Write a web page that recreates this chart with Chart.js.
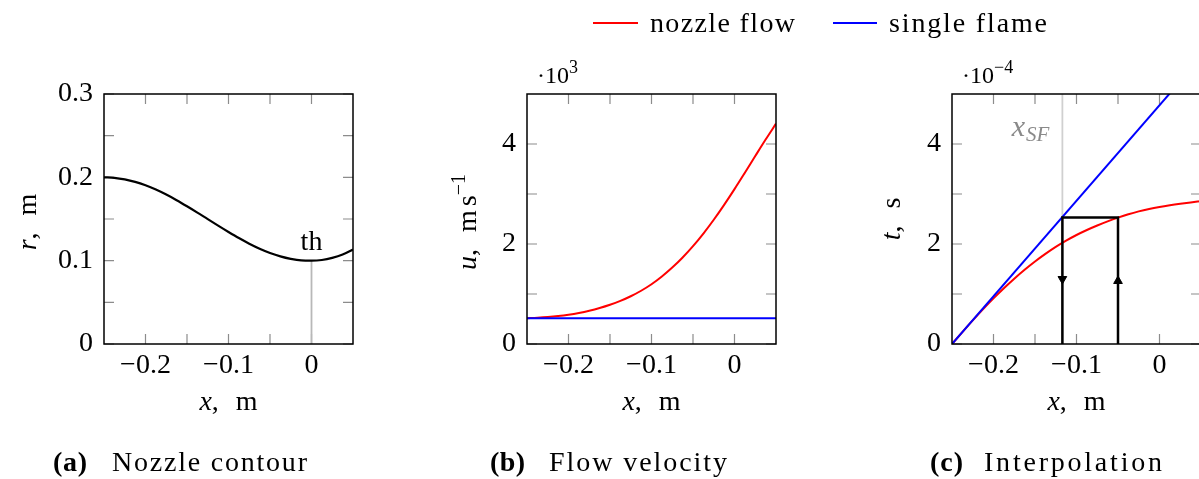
<!DOCTYPE html>
<html>
<head>
<meta charset="utf-8">
<script src="https://cdn.jsdelivr.net/npm/chart.js@4.4.0/dist/chart.umd.min.js"></script>
<style>
html,body{margin:0;padding:0;overflow:hidden;background:#fff;width:1199px;height:479px;}
#wrap{position:relative;width:1199px;height:479px;overflow:hidden;font-family:"Liberation Serif",serif;color:#000;}
#wrap canvas{position:absolute;top:0;}
.txt{position:absolute;font-size:28px;line-height:28px;white-space:nowrap;}
.legline{position:absolute;height:2px;}
</style>
</head>
<body>
<div id="wrap">
<canvas id="ca" width="400" height="479" style="left:0px"></canvas>
<canvas id="cb" width="400" height="479" style="left:400px"></canvas>
<canvas id="cc" width="410" height="479" style="left:800px"></canvas>
</div>
<script>
// ---------------- data ----------------
const seriesNames = ['nozzle flow', 'single flame'];
const seriesColors = ['#ff0000', '#0000ff'];
const captionLabels = ['(a)', '(b)', '(c)'];
const captionTexts = ['Nozzle contour', 'Flow velocity', 'Interpolation'];

const xTickValues = [-0.2, -0.1, 0];
const xTickLabels = ['\u22120.2', '\u22120.1', '0'];
const xMinorTicks = [-0.15, -0.05];

const rTickValues = [0, 0.1, 0.2, 0.3];
const rTickLabels = ['0', '0.1', '0.2', '0.3'];
const rMinorTicks = [0.05, 0.15, 0.25];

const uTickValues = [0, 2000, 4000];
const uTickLabels = ['0', '2', '4'];
const uMinorTicks = [1000, 3000];

const tTickValues = [0, 2e-4, 4e-4];
const tTickLabels = ['0', '2', '4'];
const tMinorTicks = [1e-4, 3e-4];

// common x positions (m)
const xPos = [-0.25, -0.2375, -0.225, -0.2125, -0.2, -0.1875, -0.175, -0.1625, -0.15, -0.1375, -0.125, -0.1125,
              -0.1, -0.0875, -0.075, -0.0625, -0.05, -0.0375, -0.025, -0.0125, 0, 0.0125, 0.025, 0.0375, 0.05];

// (a) nozzle contour radius (m)
const rContour = [0.2000, 0.1994, 0.1975, 0.1945, 0.1904, 0.1853, 0.1793, 0.1726, 0.1653, 0.1577, 0.1498, 0.1420,
                  0.1344, 0.1271, 0.1204, 0.1144, 0.1093, 0.1052, 0.1022, 0.1003, 0.1000, 0.1008, 0.1033, 0.1073, 0.1133];
const throatX = [0, 0];
const throatR = [0, 0.1];

// (b) flow velocity (m/s)
const uNozzle = [515, 525, 539, 559, 586, 621, 665, 719, 784, 862, 955, 1065,
                 1195, 1350, 1528, 1730, 1957, 2209, 2485, 2783, 3098, 3426, 3759, 4089, 4407];
const xSingle = [-0.25, 0.05];
const uSingle = [515, 515];

// (c) interpolation: residence time (s)
const tNozzle = [0, 0.238e-4, 0.472e-4, 0.698e-4, 0.913e-4, 1.116e-4, 1.307e-4, 1.485e-4, 1.650e-4, 1.802e-4, 1.942e-4, 2.067e-4,
                 2.180e-4, 2.280e-4, 2.370e-4, 2.452e-4, 2.527e-4, 2.595e-4, 2.653e-4, 2.701e-4, 2.741e-4, 2.775e-4, 2.805e-4, 2.832e-4, 2.857e-4];
const tSingle = [0, 5.73e-4];
const xSF = -0.117;
const tSF = 2.53e-4;
const xMatch = -0.05;
const pathX = [xSF, xSF, xMatch, xMatch];
const pathT = [0, tSF, tSF, 0];
const arrowX = [xSF, xMatch];
const arrowT = [1.30e-4, 1.26e-4];
const arrowRot = [180, 0];
const sfLineX = [xSF, xSF];
const sfLineT = [0, 5e-4];

// ---------------- helpers ----------------
const FONT = '"Liberation Serif", serif';
const FS = 28;
Chart.defaults.font.family = FONT;
Chart.defaults.font.size = FS;
Chart.defaults.color = '#000';

const pts = (xs, ys) => xs.map((x, i) => ({x: x, y: ys[i]}));
function line(xs, ys, color, width, smooth, extra) {
  return Object.assign({
    data: pts(xs, ys), showLine: true, borderColor: color, backgroundColor: color,
    borderWidth: width, pointRadius: 0, pointHoverRadius: 0,
    tension: 0, cubicInterpolationMode: smooth ? 'monotone' : 'default'
  }, extra || {});
}

function segFont(s) {
  return (s.b ? 'bold ' : '') + (s.it ? 'italic ' : '') + (s.size || FS) + 'px ' + FONT;
}
function drawRich(ctx, item) {
  ctx.save();
  ctx.translate(item.x, item.y);
  if (item.rot) ctx.rotate(item.rot);
  let w = 0;
  item.segs.forEach(s => { ctx.font = segFont(s); w += (s.dx || 0) + ctx.measureText(s.t).width; });
  let cx = item.align === 'center' ? -w / 2 : item.align === 'right' ? -w : 0;
  ctx.textBaseline = 'alphabetic';
  ctx.textAlign = 'left';
  item.segs.forEach(s => {
    ctx.font = segFont(s);
    ctx.fillStyle = s.color || '#000';
    cx += s.dx || 0;
    ctx.fillText(s.t, cx, s.dy || 0);
    cx += ctx.measureText(s.t).width;
  });
  ctx.restore();
}

const frameTicks = {
  id: 'frameTicks',
  beforeDatasetsDraw(chart, args, o) {
    const ctx = chart.ctx, a = chart.chartArea, x = chart.scales.x, y = chart.scales.y;
    const L = 10;
    ctx.save();
    ctx.strokeStyle = '#8c8c8c';
    ctx.lineWidth = 1.2;
    ctx.beginPath();
    o.x.forEach(v => {
      const p = x.getPixelForValue(v);
      ctx.moveTo(p, a.bottom); ctx.lineTo(p, a.bottom - L);
      ctx.moveTo(p, a.top); ctx.lineTo(p, a.top + L);
    });
    o.y.forEach(v => {
      const p = y.getPixelForValue(v);
      ctx.moveTo(a.left, p); ctx.lineTo(a.left + L, p);
      ctx.moveTo(a.right, p); ctx.lineTo(a.right - L, p);
    });
    ctx.stroke();
    ctx.restore();
  },
  afterDatasetsDraw(chart) {
    const ctx = chart.ctx, a = chart.chartArea;
    ctx.save();
    ctx.strokeStyle = '#000';
    ctx.lineWidth = 1.5;
    ctx.strokeRect(a.left, a.top, a.right - a.left, a.bottom - a.top);
    ctx.restore();
  }
};

const richText = {
  id: 'richText',
  afterDraw(chart, args, o) {
    const a = chart.chartArea, sx = chart.scales.x, sy = chart.scales.y;
    (o.items || []).forEach(it => {
      const p = it.at(a, sx, sy);
      drawRich(chart.ctx, {x: p[0], y: p[1], rot: it.rot, align: it.align, segs: it.segs});
    });
  }
};

function makePanel(id, cfg) {
  return new Chart(document.getElementById(id), {
    type: 'scatter',
    data: {datasets: cfg.datasets},
    plugins: [frameTicks, richText],
    options: {
      responsive: false, animation: false, devicePixelRatio: 1,
      layout: {padding: {left: 0, top: 94, right: cfg.padRight, bottom: 0}},
      plugins: {
        legend: {display: false}, tooltip: {enabled: false},
        frameTicks: {x: xTickValues.concat(xMinorTicks), y: cfg.yTicks.concat(cfg.yMinor)},
        richText: {items: cfg.texts}
      },
      scales: {
        x: {
          type: 'linear', min: -0.25, max: 0.05,
          grid: {display: false, drawTicks: false}, border: {display: false},
          afterBuildTicks: s => { s.ticks = xTickValues.map(v => ({value: v})); },
          ticks: {autoSkip: false, maxRotation: 0, minRotation: 0, padding: 5,
                   callback: (v, i) => xTickLabels[i]},
          afterFit: s => { s.height = 135; }
        },
        y: {
          type: 'linear', min: cfg.yMin, max: cfg.yMax,
          grid: {display: false, drawTicks: false}, border: {display: false},
          afterBuildTicks: s => { s.ticks = cfg.yTicks.map(v => ({value: v})); },
          ticks: {autoSkip: false, padding: 11, callback: (v, i) => cfg.yLabels[i]},
          afterFit: s => { s.width = cfg.yWidth; }
        }
      }
    }
  });
}

const xTitle = {
  segs: [{t: 'x', it: 1}, {t: ','}, {t: 'm', dx: 17}], align: 'center',
  at: a => [(a.left + a.right) / 2, a.bottom + 66]
};

// ---------------- panel (a) ----------------
makePanel('ca', {
  padRight: 47, yWidth: 104, yMin: 0, yMax: 0.3,
  yTicks: rTickValues, yLabels: rTickLabels, yMinor: rMinorTicks,
  datasets: [
    line(xPos, rContour, '#000', 2.2, true),
    line(throatX, throatR, '#b8b8b8', 1.8, false)
  ],
  texts: [
    xTitle,
    {segs: [{t: 'r', it: 1}, {t: ','}, {t: 'm', dx: 17}], align: 'center', rot: -Math.PI / 2,
     at: a => [a.left - 68, (a.top + a.bottom) / 2 + 3]},
    {segs: [{t: 'th'}], align: 'center', at: (a, sx, sy) => [sx.getPixelForValue(0), sy.getPixelForValue(0.1) - 11]}
  ]
});

// ---------------- panel (b) ----------------
makePanel('cb', {
  padRight: 24, yWidth: 127, yMin: 0, yMax: 5000,
  yTicks: uTickValues, yLabels: uTickLabels, yMinor: uMinorTicks,
  datasets: [
    line(xSingle, uSingle, seriesColors[1], 2, false, {label: seriesNames[1]}),
    line(xPos, uNozzle, seriesColors[0], 2, true, {label: seriesNames[0]})
  ],
  texts: [
    xTitle,
    {segs: [{t: 'u', it: 1}, {t: ','}, {t: 'm', dx: 17}, {t: 's', dx: 4}, {t: '\u22121', size: 20, dy: -11}],
     align: 'center', rot: -Math.PI / 2, at: a => [a.left - 51, (a.top + a.bottom) / 2 + 3]},
    {segs: [{t: '\u00b710', size: 24}, {t: '3', size: 18, dy: -10}], align: 'left',
     at: a => [a.left + 10, a.top - 11.5]}
  ]
});

// ---------------- panel (c) ----------------
makePanel('cc', {
  padRight: 9, yWidth: 152, yMin: 0, yMax: 5e-4,
  yTicks: tTickValues, yLabels: tTickLabels, yMinor: tMinorTicks,
  datasets: [
    {data: pts(arrowX, arrowT), showLine: false, pointStyle: 'triangle', pointRadius: 5,
     pointRotation: arrowRot, backgroundColor: '#000', borderColor: '#000', borderWidth: 1},
    line(pathX, pathT, '#000', 2.5, false),
    line(xSingle, tSingle, seriesColors[1], 2, false, {label: seriesNames[1]}),
    line(xPos, tNozzle, seriesColors[0], 2, true, {label: seriesNames[0]}),
    line(sfLineX, sfLineT, '#d0d0d0', 1.8, false)
  ],
  texts: [
    xTitle,
    {segs: [{t: 't', it: 1}, {t: ','}, {t: 's', dx: 17}], align: 'center', rot: -Math.PI / 2,
     at: a => [a.left - 52, (a.top + a.bottom) / 2]},
    {segs: [{t: '\u00b710', size: 24}, {t: '\u22124', size: 18, dy: -10}], align: 'left',
     at: a => [a.left + 10, a.top - 11.5]},
    {segs: [{t: 'x', it: 1, size: 30, color: '#8a8a8a'}, {t: 'SF', it: 1, size: 21, dy: 5, dx: 1, color: '#8a8a8a'}],
     align: 'right', at: (a, sx) => [sx.getPixelForValue(xSF) - 13, a.top + 42]}
  ]
});

// ---------------- legend & captions (HTML text) ----------------
const wrap = document.getElementById('wrap');
const measureCtx = document.createElement('canvas').getContext('2d');
function addText(text, left, top, targetWidth, bold) {
  const d = document.createElement('div');
  d.className = 'txt';
  d.textContent = text;
  d.style.left = left + 'px';
  d.style.top = top + 'px';
  if (bold) d.style.fontWeight = 'bold';
  measureCtx.font = (bold ? 'bold ' : '') + FS + 'px ' + FONT;
  const natural = measureCtx.measureText(text).width;
  const ls = Math.max(0, (targetWidth - natural) / Math.max(1, text.length - 1));
  d.style.letterSpacing = ls.toFixed(2) + 'px';
  wrap.appendChild(d);
}
function addLine(left, top, width, color) {
  const d = document.createElement('div');
  d.className = 'legline';
  Object.assign(d.style, {left: left + 'px', top: top + 'px', width: width + 'px', background: color});
  wrap.appendChild(d);
}
const legendLayout = [
  {line: 593, width: 45, text: 650, w: 145},
  {line: 833, width: 44, text: 889, w: 158}
];
seriesNames.forEach((name, i) => {
  const L = legendLayout[i];
  addLine(L.line, 22, L.width, seriesColors[i]);
  addText(name, L.text, 9, L.w, false);
});
const captionLayout = [
  {label: 53, lw: 34, text: 112, w: 195},
  {label: 490, lw: 35, text: 549, w: 178},
  {label: 930, lw: 33, text: 984, w: 178}
];
captionLabels.forEach((lab, i) => {
  const C = captionLayout[i];
  addText(lab, C.label, 448, C.lw, true);
  addText(captionTexts[i], C.text, 448, C.w, false);
});
</script>
</body>
</html>
